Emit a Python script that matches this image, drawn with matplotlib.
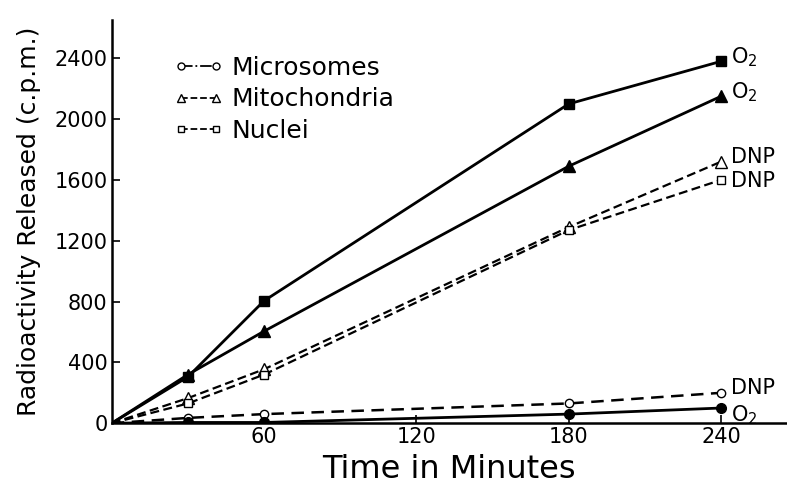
import matplotlib
matplotlib.use("Agg")
import matplotlib.pyplot as plt
from matplotlib.lines import Line2D

time = [0, 30, 60, 180, 240]
nuclei_o2 = [0, 305, 805, 2100, 2380]
mito_o2 = [0, 320, 605, 1690, 2150]
mito_dnp = [0, 165, 355, 1290, 1720]
nuclei_dnp = [0, 130, 320, 1270, 1600]
micro_dnp = [0, 35, 60, 130, 200]
micro_o2 = [0, 5, 5, 60, 100]

xticks = [60, 120, 180, 240]
yticks = [0, 400, 800, 1200, 1600, 2000, 2400]

plt.rcParams['font.family'] = ['DejaVu Sans']
fig = plt.figure(figsize=(7.87, 4.95), dpi=100)
ax = fig.add_axes([0.142, 0.145, 0.858, 0.814])

lw = 2
ms = 7
ax.plot(time, nuclei_o2, '-', color='black', lw=lw, marker='s', ms=ms, markevery=[1, 2, 3, 4])
ax.plot(time, mito_o2, '-', color='black', lw=lw, marker='^', ms=ms + 1, markevery=[1, 2, 3, 4])
ax.plot(time, mito_dnp, '--', color='black', lw=1.6, marker='^', ms=ms + 1, mfc='white', markevery=[1, 2, 3, 4], dashes=(4, 2))
ax.plot(time, nuclei_dnp, '--', color='black', lw=1.6, marker='s', ms=ms - 1, mfc='white', markevery=[1, 2, 3, 4], dashes=(4, 2))
ax.plot(time, micro_dnp, '--', color='black', lw=1.8, marker='o', ms=ms - 1, mfc='white', markevery=[1, 2, 3, 4], dashes=(5, 3))
ax.plot(time, micro_o2, '-', color='black', lw=lw, marker='o', ms=ms, markevery=[1, 2, 3, 4])

ax.set_xlim(0, 266)
ax.set_ylim(0, 2650)
ax.set_xticks(xticks)
ax.set_yticks(yticks)
ax.tick_params(direction='in', length=6, width=1.2, labelsize=15, pad=3)
ax.spines['top'].set_visible(False)
ax.spines['right'].set_visible(False)
ax.spines['left'].set_linewidth(1.8)
ax.spines['bottom'].set_linewidth(1.8)
ax.set_xlabel('Time in Minutes', fontsize=23, labelpad=5)
ax.set_ylabel('Radioactivity Released (c.p.m.)', fontsize=18, labelpad=10)

fs = 15
ax.text(244, nuclei_o2[-1] + 30, 'O$_2$', fontsize=fs, va='center', ha='left')
ax.text(244, mito_o2[-1] + 30, 'O$_2$', fontsize=fs, va='center', ha='left')
ax.text(244, mito_dnp[-1] + 30, 'DNP', fontsize=fs, va='center', ha='left')
ax.text(244, nuclei_dnp[-1] - 10, 'DNP', fontsize=fs, va='center', ha='left')
ax.text(244, micro_dnp[-1] + 30, 'DNP', fontsize=fs, va='center', ha='left')
ax.text(244, micro_o2[-1] - 50, 'O$_2$', fontsize=fs, va='center', ha='left')

handles = [
    Line2D([0], [0], color='black', lw=1.3, ls='-.', marker='o', ms=5, mfc='white'),
    Line2D([0], [0], color='black', lw=1.3, ls='--', marker='^', ms=6, mfc='white'),
    Line2D([0], [0], color='black', lw=1.3, ls='--', marker='s', ms=5, mfc='white'),
]
ax.legend(handles, ['Microsomes', 'Mitochondria', 'Nuclei'], loc='upper left',
          bbox_to_anchor=(0.065, 0.955), frameon=False, fontsize=18, numpoints=2,
          handlelength=2.0, handletextpad=0.35, labelspacing=0.3, borderpad=0.2)

fig.savefig('out.png', dpi=100)
